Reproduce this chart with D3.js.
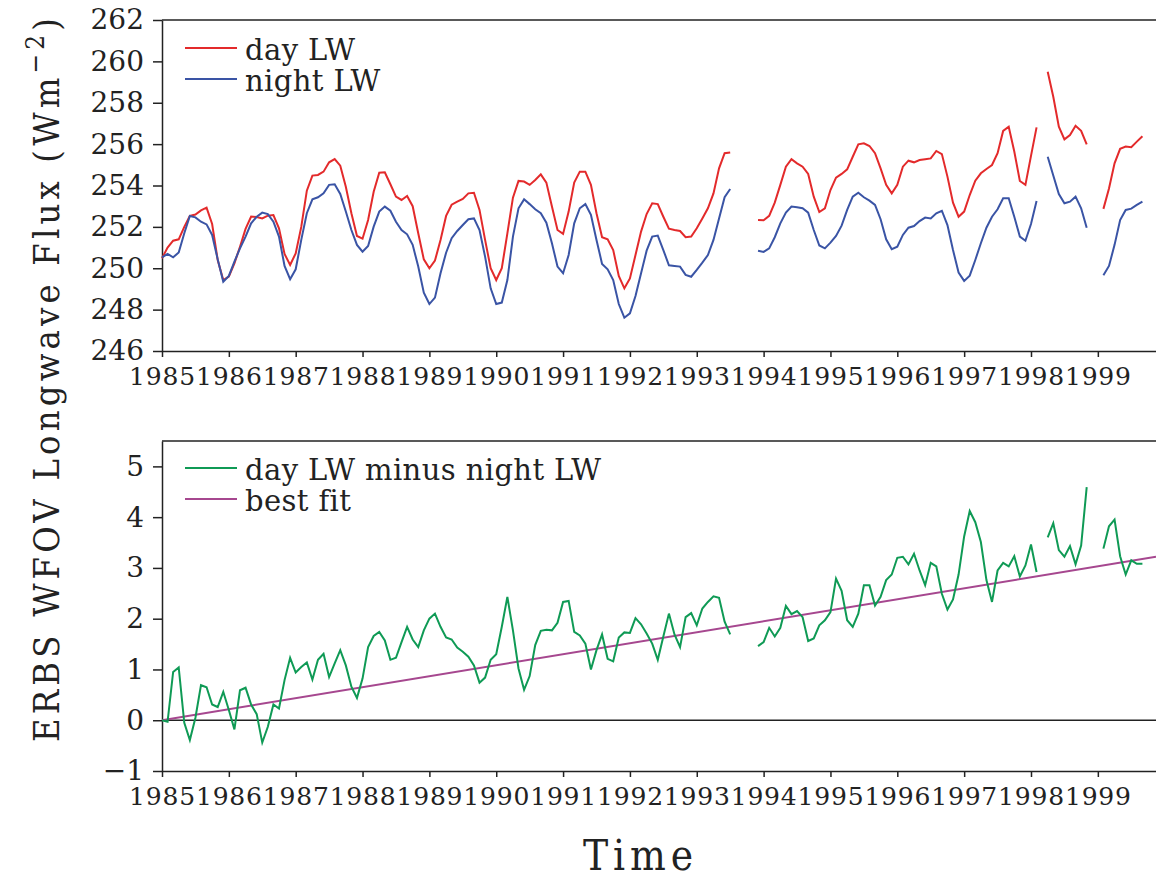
<!DOCTYPE html>
<html>
<head>
<meta charset="utf-8">
<script src="https://cdn.jsdelivr.net/npm/d3@7"></script>
<style>
  body { margin: 0; background: #fff; }
  text { fill: #222; }
</style>
</head>
<body>
<svg id="chart" width="1156" height="880"></svg>
<script>
// monthly values starting Jan 1985, null = no data
const startYear = 1985;

const dayLW = [
  250.48, 251.0, 251.33, 251.4, 252.0, 252.53, 252.6, 252.8, 252.93, 252.14, 250.4, 249.43,
  249.6, 250.24, 251.04, 251.9, 252.5, 252.48, 252.41, 252.54, 252.57, 251.93, 250.69, 250.16,
  250.72, 252.0, 253.75, 254.48, 254.51, 254.67, 255.12, 255.28, 254.96, 253.94, 252.66, 251.56,
  251.43, 252.33, 253.7, 254.62, 254.64, 254.06, 253.46, 253.3, 253.49, 253.0, 251.69, 250.43,
  250.0, 250.37, 251.37, 252.53, 253.07, 253.22, 253.35, 253.62, 253.65, 252.82, 251.37, 250.0,
  249.43, 250.0, 251.69, 253.41, 254.22, 254.19, 254.03, 254.27, 254.54, 254.14, 252.98, 251.85,
  251.66, 252.74, 254.14, 254.67, 254.67, 254.03, 252.66, 251.5, 251.4, 250.88, 249.63, 249.03,
  249.51, 250.64, 251.77, 252.62, 253.14, 253.1, 252.49, 251.91, 251.85, 251.8, 251.5, 251.53,
  251.93, 252.41, 252.9, 253.62, 254.83, 255.56, 255.6, null, null, null, null, 252.33,
  252.32, 252.53, 253.17, 254.03, 254.91, 255.27, 255.07, 254.91, 254.56, 253.46, 252.72, 252.9,
  253.78, 254.38, 254.56, 254.78, 255.39, 255.99, 256.04, 255.91, 255.56, 254.83, 254.03, 253.62,
  254.03, 254.91, 255.2, 255.12, 255.23, 255.27, 255.31, 255.67, 255.52, 254.43, 253.17, 252.49,
  252.74, 253.54, 254.23, 254.59, 254.8, 254.99, 255.56, 256.64, 256.84, 255.64, 254.22, 254.03,
  255.43, 256.81, null, 259.5, 258.29, 256.84, 256.23, 256.44, 256.89, 256.64, 255.99, null,
  null, 252.87, 253.86, 255.07, 255.77, 255.88, 255.85, 256.12, 256.38
];

const nightLW = [
  250.53, 250.69, 250.53, 250.76, 251.69, 252.53, 252.46, 252.25, 252.12, 251.61, 250.43, 249.35,
  249.63, 250.32, 250.96, 251.53, 252.17, 252.49, 252.69, 252.62, 252.25, 251.53, 250.11, 249.47,
  249.95, 251.37, 252.66, 253.33, 253.43, 253.62, 254.03, 254.06, 253.59, 252.74, 251.85, 251.13,
  250.8, 251.08, 252.01, 252.74, 252.98, 252.78, 252.25, 251.85, 251.64, 251.13, 250.08, 248.82,
  248.27, 248.58, 249.76, 250.75, 251.45, 251.8, 252.09, 252.37, 252.41, 251.85, 250.56, 249.03,
  248.27, 248.34, 249.43, 251.53, 252.9, 253.33, 253.1, 252.85, 252.66, 252.2, 251.21, 250.08,
  249.76, 250.64, 252.17, 252.9, 253.1, 252.58, 251.37, 250.21, 249.95, 249.43, 248.27, 247.61,
  247.82, 248.66, 249.76, 250.85, 251.53, 251.58, 250.88, 250.14, 250.11, 250.08, 249.68, 249.59,
  249.92, 250.27, 250.64, 251.37, 252.41, 253.43, 253.83, null, null, null, null, 250.85,
  250.79, 250.96, 251.5, 252.17, 252.69, 252.98, 252.95, 252.9, 252.69, 251.85, 251.1, 250.96,
  251.24, 251.56, 252.06, 252.82, 253.46, 253.65, 253.43, 253.27, 253.06, 252.37, 251.4, 250.92,
  251.04, 251.61, 251.96, 252.04, 252.28, 252.45, 252.41, 252.66, 252.78, 252.09, 250.88, 249.79,
  249.39, 249.64, 250.4, 251.21, 251.96, 252.49, 252.85, 253.38, 253.38, 252.49, 251.53, 251.33,
  252.14, 253.25, null, 255.39, 254.48, 253.59, 253.14, 253.22, 253.46, 252.9, 251.96, null,
  null, 249.66, 250.11, 251.13, 252.33, 252.82, 252.88, 253.06, 253.22
];

const diffLW = [
  0.0, -0.03, 0.95, 1.04, -0.05, -0.39, 0.05, 0.69, 0.65, 0.31, 0.26, 0.56,
  0.2, -0.18, 0.59, 0.64, 0.31, 0.12, -0.44, -0.13, 0.31, 0.23, 0.79, 1.23,
  0.94, 1.05, 1.14, 0.8, 1.19, 1.31, 0.85, 1.12, 1.38, 1.08, 0.66, 0.44,
  0.82, 1.44, 1.66, 1.74, 1.57, 1.19, 1.23, 1.54, 1.84, 1.59, 1.44, 1.77,
  2.0, 2.1, 1.84, 1.63, 1.59, 1.43, 1.35, 1.25, 1.08, 0.74, 0.84, 1.19,
  1.3, 1.84, 2.43, 1.77, 1.02, 0.6, 0.87, 1.48, 1.76, 1.78, 1.77, 1.92,
  2.33, 2.35, 1.74, 1.67, 1.51, 1.0, 1.38, 1.69, 1.21, 1.16, 1.63, 1.73,
  1.72, 2.01, 1.89, 1.71, 1.51, 1.19, 1.65, 2.1, 1.69, 1.44, 2.03, 2.11,
  1.87, 2.2, 2.33, 2.44, 2.41, 1.94, 1.69, null, null, null, null, 1.46,
  1.54, 1.82, 1.65, 1.82, 2.25, 2.09, 2.15, 2.03, 1.56, 1.61, 1.87, 1.97,
  2.13, 2.79, 2.55, 1.97, 1.84, 2.1, 2.66, 2.66, 2.26, 2.43, 2.76, 2.87,
  3.2, 3.22, 3.07, 3.28, 2.95, 2.66, 3.1, 3.03, 2.49, 2.18, 2.38, 2.87,
  3.62, 4.12, 3.9, 3.51, 2.76, 2.33, 2.95, 3.1, 3.03, 3.23, 2.83, 3.05,
  3.46, 2.92, null, 3.6, 3.88, 3.35, 3.22, 3.43, 3.07, 3.44, 4.59, null,
  null, 3.38, 3.82, 3.95, 3.23, 2.87, 3.15, 3.08, 3.08
];

// best fit line end points
const fitYears = [1985, 1999.87];
const fitValues = [0, 3.22];

const yearTicks = [1985, 1986, 1987, 1988, 1989, 1990, 1991, 1992, 1993, 1994, 1995, 1996, 1997, 1998, 1999];
const topTicks = [246, 248, 250, 252, 254, 256, 258, 260, 262];
const bottomTicks = [-1, 0, 1, 2, 3, 4, 5];

const svg = d3.select('#chart');
const ink = '#222';

const x = d3.scaleLinear().domain([1985, 1999.87]).range([162, 1156]);
const yTop = d3.scaleLinear().domain([246, 262]).range([351, 20]);
const yBot = d3.scaleLinear().domain([-1, 5.5]).range([771, 441]);

const monthX = (d, i) => x(startYear + i / 12);

function axes(y, ticks, bottomY, topY) {
  const gy = svg.append('g')
    .attr('transform', 'translate(162,0)')
    .call(d3.axisLeft(y).tickValues(ticks).tickSize(9).tickSizeOuter(0).tickPadding(9)
      .tickFormat(d => d < 0 ? '\u2212' + Math.abs(d) : d));
  gy.selectAll('text').style('font-family', 'DejaVu Serif').style('font-size', '28px');

  const gx = svg.append('g')
    .attr('transform', `translate(0,${bottomY})`)
    .call(d3.axisBottom(x).tickValues(yearTicks).tickSize(6).tickSizeOuter(0).tickPadding(10)
      .tickFormat(d3.format('d')));
  gx.selectAll('text')
    .style('font-family', 'DejaVu Serif')
    .style('font-size', '25px')
    .style('letter-spacing', '0.8px');

  svg.append('line')
    .attr('x1', 162).attr('x2', 1156)
    .attr('y1', topY).attr('y2', topY)
    .attr('stroke', ink).attr('stroke-width', 1.5);

  svg.selectAll('.domain, .tick line').attr('stroke', ink).attr('stroke-width', 1.5);
  svg.selectAll('.tick text').attr('fill', ink);
}

axes(yTop, topTicks, 351, 20);
axes(yBot, bottomTicks, 771, 441);

// zero line
svg.append('line')
  .attr('x1', 162).attr('x2', 1156)
  .attr('y1', yBot(0)).attr('y2', yBot(0))
  .attr('stroke', ink).attr('stroke-width', 1.5);

function series(values, y, color) {
  const line = d3.line()
    .defined(d => d != null)
    .x(monthX)
    .y(d => y(d));
  svg.append('path')
    .datum(values)
    .attr('d', line)
    .attr('fill', 'none')
    .attr('stroke', color)
    .attr('stroke-width', 2)
    .attr('stroke-linejoin', 'miter');
}

series(dayLW, yTop, '#e32a2b');
series(nightLW, yTop, '#3a54a5');

svg.append('path')
  .datum(d3.zip(fitYears, fitValues))
  .attr('d', d3.line().x(d => x(d[0])).y(d => yBot(d[1])))
  .attr('fill', 'none')
  .attr('stroke', '#a6478f')
  .attr('stroke-width', 2);

series(diffLW, yBot, '#0f9a55');

// legends
function legend(items, y0) {
  items.forEach((it, i) => {
    const y = y0 + i * 31;
    svg.append('line')
      .attr('x1', 185).attr('x2', 237)
      .attr('y1', y).attr('y2', y)
      .attr('stroke', it.color).attr('stroke-width', 2);
    svg.append('text')
      .attr('x', 245).attr('y', y + 12)
      .style('font-family', 'DejaVu Serif')
      .style('font-size', '29px')
      .style('letter-spacing', '0.4px')
      .text(it.label);
  });
}

legend([{ label: 'day LW', color: '#e32a2b' }, { label: 'night LW', color: '#3a54a5' }], 48);
legend([{ label: 'day LW minus night LW', color: '#0f9a55' }, { label: 'best fit', color: '#a6478f' }], 468);

// axis titles
const ytitle = svg.append('text')
  .attr('transform', 'translate(59,380) rotate(-90)')
  .attr('text-anchor', 'middle')
  .attr('textLength', 724)
  .attr('lengthAdjust', 'spacing')
  .style('font-family', 'DejaVu Serif')
  .style('font-stretch', 'condensed')
  .style('font-size', '36px');
ytitle.append('tspan').text('ERBS WFOV Longwave Flux (Wm');
ytitle.append('tspan').attr('dy', -15).style('font-size', '26px').text('\u22122');
ytitle.append('tspan').attr('dy', 15).text(')');

svg.append('text')
  .attr('x', 638).attr('y', 870)
  .attr('text-anchor', 'middle')
  .attr('textLength', 110)
  .attr('lengthAdjust', 'spacing')
  .style('font-family', 'DejaVu Serif')
  .style('font-stretch', 'condensed')
  .style('font-size', '42px')
  .text('Time');
</script>
</body>
</html>
